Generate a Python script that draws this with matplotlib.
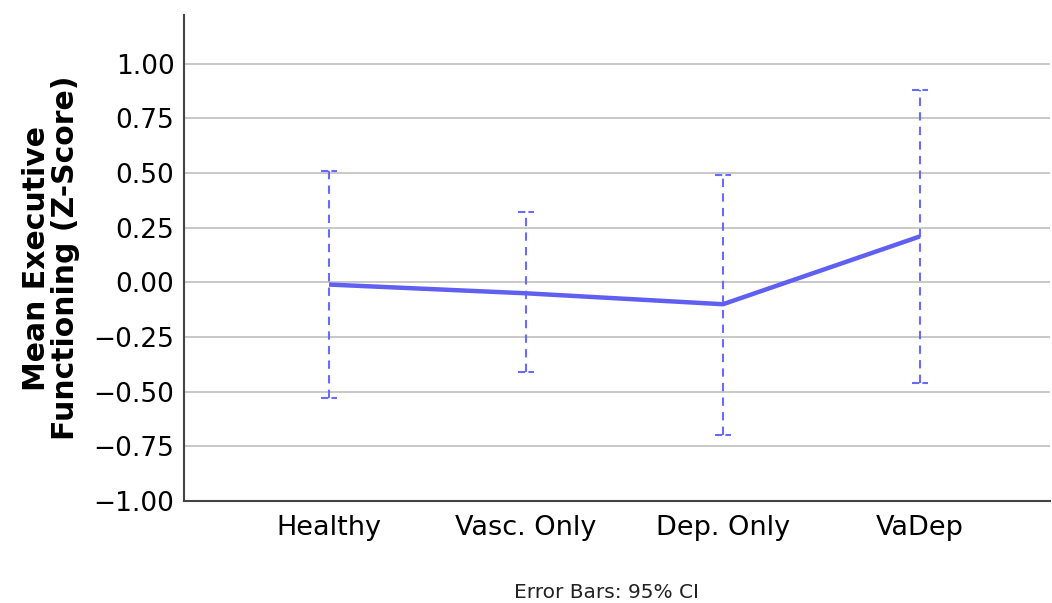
import numpy as np
import matplotlib.pyplot as plt

# group means and 95% CI bounds
groups = ["Healthy", "Vasc. Only", "Dep. Only", "VaDep"]
means = [-0.01, -0.05, -0.10, 0.21]
ci_low = [-0.53, -0.41, -0.70, -0.46]
ci_high = [0.51, 0.32, 0.49, 0.88]
yticks = [-1.00, -0.75, -0.50, -0.25, 0.00, 0.25, 0.50, 0.75, 1.00]

x = np.arange(len(groups))
means_a = np.array(means)
err = [means_a - np.array(ci_low), np.array(ci_high) - means_a]

fig = plt.figure(figsize=(10.52, 6.03), dpi=100)
ax = fig.add_axes([0.175, 0.169, 0.823, 0.806])

line_col = "#5f5ff2"
bar_col = "#6a6aff"

eb = ax.errorbar(x, means_a, yerr=err, fmt="none", ecolor=bar_col,
                 elinewidth=1.5, capsize=0, zorder=3)
for lc in eb[2]:
    lc.set_linestyle((0, (4, 3)))
# dashed caps
cap_half = 0.042
ax.hlines(ci_high, x - cap_half, x + cap_half, colors=bar_col, lw=1.5,
          linestyles=[(0, (3.5, 1.5))], zorder=3)
ax.hlines(ci_low, x - cap_half, x + cap_half, colors=bar_col, lw=1.5,
          linestyles=[(0, (3.5, 1.5))], zorder=3)
ax.plot(x, means_a, color=line_col, lw=3.2, zorder=4, solid_capstyle="butt")

ax.set_xlim(-0.736, 3.66)
ax.set_ylim(-1.0, 1.222)
ax.set_yticks(yticks)
ax.set_yticklabels([f"{v:.2f}".replace("-", "\u2212") for v in yticks], fontsize=19)
ax.set_xticks(x)
ax.set_xticklabels(groups, fontsize=19.5)
ax.tick_params(length=0, pad=7)
ax.tick_params(axis="x", pad=10)

ax.grid(axis="y", color="#c4c4c4", lw=1.3)
ax.set_axisbelow(True)
for s in ["top", "right"]:
    ax.spines[s].set_visible(False)
for s in ["left", "bottom"]:
    ax.spines[s].set_color("#444444")
    ax.spines[s].set_linewidth(1.5)

ax.set_ylabel("Mean Executive\nFunctioning (Z-Score)", fontsize=21.5,
              fontweight="bold", labelpad=10, linespacing=1.0)

fig.text(606 / 1052, 1 - 592 / 603, "Error Bars: 95% CI", fontsize=14.5,
         ha="center", va="center", color="#222222")

fig.savefig("out.png", dpi=100)
